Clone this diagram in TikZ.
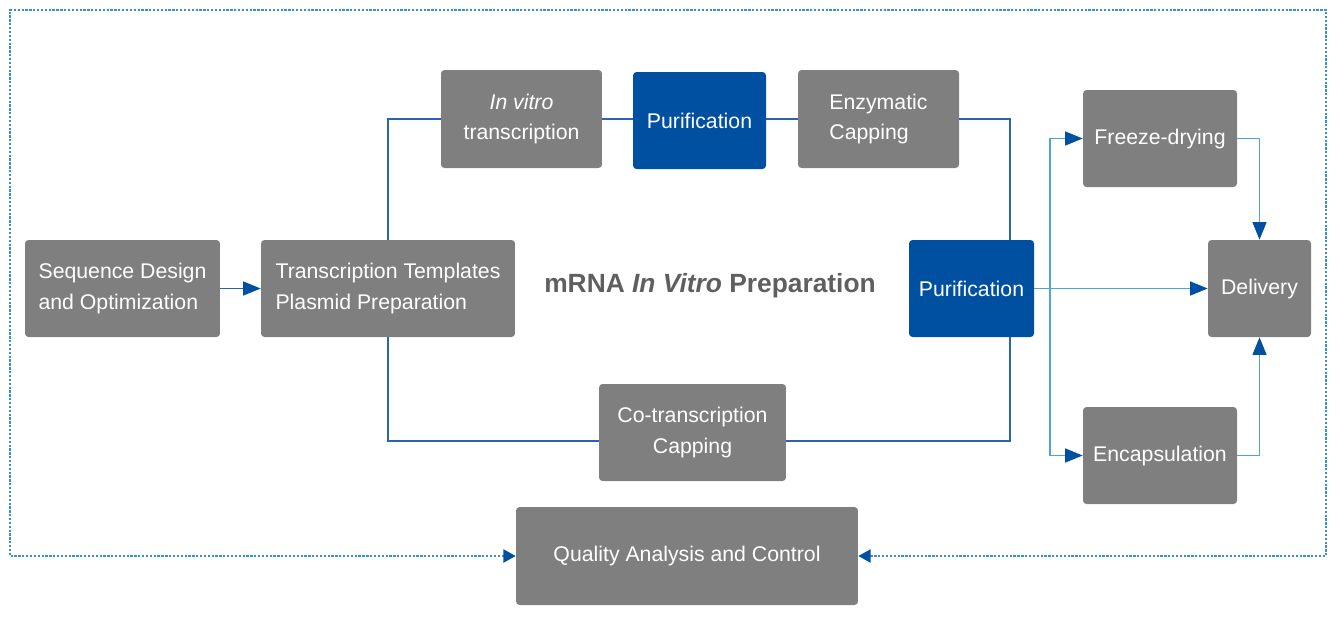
\documentclass[tikz,border=0pt]{standalone}
\usepackage{fontspec}
\setmainfont{Liberation Sans}
\usetikzlibrary{arrows.meta}

\definecolor{boxgray}{HTML}{7F7F80}
\definecolor{puriblue}{HTML}{0050A2}
\definecolor{linedark}{HTML}{2A64AA}
\definecolor{linelight}{HTML}{4DA6DA}
\definecolor{titlegray}{HTML}{5F5F5F}
\definecolor{framedot}{HTML}{3A90CF}

\tikzset{
  stepbox/.style={fill=boxgray, text=white, rounded corners=2pt, inner sep=0pt,
    align=center, font=\fontsize{12.1}{17.5}\selectfont},
  puribox/.style={stepbox, fill=puriblue},
  darkline/.style={draw=linedark, line width=0.7pt},
  lightline/.style={draw=linelight, line width=0.7pt},
  tip/.style={-{Triangle[length=10pt,width=8pt,color=puriblue]}},
  smalltip/.style={{Triangle[length=7pt,width=7.5pt,color=puriblue]}-{Triangle[length=7pt,width=7.5pt,color=puriblue]}}
}

\begin{document}
\begin{tikzpicture}[x=0.02cm,y=-0.02cm]
  \useasboundingbox (0,0) rectangle (1337,620);

  % main steps
  \node[stepbox, align=left, minimum width=3.9cm, minimum height=1.94cm] (seq) at (122.5,288.5)
    {Sequence Design\\and Optimization};
  \node[stepbox, align=left, minimum width=5.08cm, minimum height=1.94cm] (tt) at (388,288.5)
    {Transcription Templates\\Plasmid Preparation};
  \node[stepbox, minimum width=3.22cm, minimum height=1.96cm] (ivt) at (521.5,119)
    {\itshape In vitro\\transcription};
  \node[puribox, minimum width=2.66cm, minimum height=1.94cm] (pur1) at (699.5,120.5) {Purification};
  \node[stepbox, align=left, minimum width=3.22cm, minimum height=1.96cm] (cap) at (878.5,119)
    {Enzymatic\\Capping};
  \node[stepbox, minimum width=3.74cm, minimum height=1.94cm] (cocap) at (692.5,432.5)
    {Co-transcription\\Capping};
  \node[puribox, minimum width=2.5cm, minimum height=1.94cm] (pur2) at (971.5,288.5) {Purification};

  % formulation and delivery
  \node[stepbox, minimum width=3.08cm, minimum height=1.94cm] (fd) at (1160,138.5) {Freeze-drying};
  \node[stepbox, minimum width=3.08cm, minimum height=1.94cm] (enc) at (1160,455.5) {Encapsulation};
  \node[stepbox, minimum width=2.06cm, minimum height=1.94cm] (del) at (1259.5,288.5) {Delivery};
  \node[stepbox, minimum width=6.84cm, minimum height=1.96cm] (qa) at (687,556)
    {Quality Analysis and Control};

  \node[text=titlegray, font=\fontsize{15}{18}\bfseries] (title) at (710,286)
    {mRNA \textit{In Vitro} Preparation};

  % connectors
  \draw[darkline, tip] (seq.east) -- (tt.west);
  \draw[darkline] (tt.north) |- (ivt.west);
  \draw[darkline] (ivt.east) -- (ivt.east -| pur1.west);
  \draw[darkline] (cap.west -| pur1.east) -- (cap.west);
  \draw[darkline] (cap.east) -| ([xshift=0.77cm]pur2.north);
  \draw[darkline] (tt.south) |- ([yshift=-0.17cm]cocap.west);
  \draw[darkline] ([yshift=-0.17cm]cocap.east) -| ([xshift=0.77cm]pur2.south);

  \coordinate (split) at (1050,288.5);
  \draw[lightline, tip] (pur2.east) -- (del.west);
  \draw[lightline, tip] (split) |- (fd.west);
  \draw[lightline, tip] (split) |- (enc.west);
  \draw[lightline, tip] (fd.east) -| (del.north);
  \draw[lightline, tip] (enc.east) -| (del.south);

  % quality control frame
  \draw[framedot, line width=0.9pt, dash pattern=on 1.3pt off 0.9pt, smalltip] (qa.west) -- (10,556) -- (10,10)
    -- (1326,10) -- (1326,556) -- (qa.east);
\end{tikzpicture}
\end{document}
